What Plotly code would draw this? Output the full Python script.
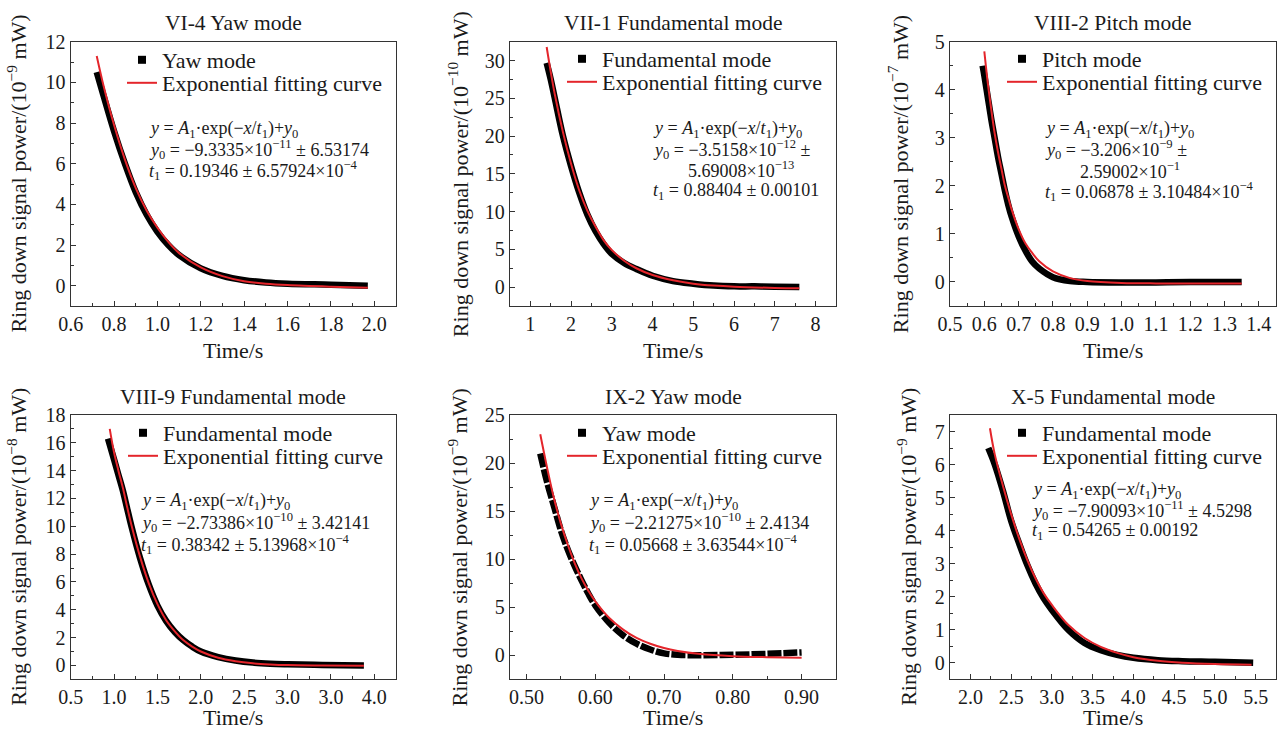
import plotly.graph_objects as go

# ---------------- data ----------------
panel_titles = ["VI-4 Yaw mode", "VII-1 Fundamental mode", "VIII-2 Pitch mode",
                "VIII-9 Fundamental mode", "IX-2 Yaw mode", "X-5 Fundamental mode"]
data_names = ["Yaw mode", "Fundamental mode", "Pitch mode",
              "Fundamental mode", "Yaw mode", "Fundamental mode"]
fit_name = "Exponential fitting curve"
y_exponents = ["−9", "−10", "−7", "−8", "−9", "−9"]
x_title = "Time/s"

# VI-4 Yaw mode (10^-9 mW)
vi4_time = [0.72, 0.75, 0.80, 0.85, 0.90, 0.95, 1.00, 1.05, 1.10, 1.20, 1.30, 1.40, 1.50, 1.60, 1.80, 1.97]
vi4_power = [10.5, 9.4, 7.6, 6.0, 4.6, 3.5, 2.65, 2.0, 1.5, 0.85, 0.48, 0.27, 0.16, 0.1, 0.05, 0.0]
vi4_fit_time = [0.72, 0.75, 0.80, 0.85, 0.90, 0.95, 1.00, 1.05, 1.10, 1.20, 1.30, 1.40, 1.50, 1.60, 1.80, 1.97]
vi4_fit_power = [11.3, 9.9, 7.9, 6.2, 4.8, 3.7, 2.85, 2.15, 1.6, 0.9, 0.47, 0.22, 0.1, 0.03, -0.05, -0.1]

# VII-1 Fundamental mode (10^-10 mW)
vii1_time = [1.4, 1.5, 1.6, 1.8, 2.0, 2.2, 2.4, 2.6, 2.8, 3.0, 3.3, 3.6, 4.0, 4.5, 5.0, 5.5, 6.0, 6.5, 7.0, 7.6]
vii1_power = [29.7, 27.5, 25.0, 20.0, 16.0, 12.5, 9.6, 7.4, 5.7, 4.4, 3.2, 2.4, 1.5, 0.8, 0.45, 0.2, 0.1, 0.1, 0.05, 0.0]
vii1_fit_time = [1.4, 1.5, 1.6, 1.8, 2.0, 2.2, 2.4, 2.6, 2.8, 3.0, 3.3, 3.6, 4.0, 4.5, 5.0, 5.5, 6.0, 7.0, 7.6]
vii1_fit_power = [31.8, 28.5, 25.5, 20.5, 16.3, 12.8, 10.1, 8.0, 6.2, 4.9, 3.5, 2.5, 1.6, 0.9, 0.45, 0.2, 0.05, -0.1, -0.15]

# VIII-2 Pitch mode (10^-7 mW)
viii2_time = [0.595, 0.60, 0.61, 0.62, 0.63, 0.64, 0.65, 0.66, 0.67, 0.68, 0.70, 0.72, 0.74, 0.76, 0.80, 0.85, 0.90, 1.00, 1.10, 1.20, 1.35]
viii2_power = [4.5, 4.3, 3.85, 3.4, 3.0, 2.6, 2.25, 1.9, 1.6, 1.35, 0.95, 0.65, 0.42, 0.28, 0.1, 0.02, 0.0, -0.01, -0.01, 0.0, 0.0]
viii2_fit_time = [0.60, 0.61, 0.62, 0.63, 0.64, 0.65, 0.66, 0.67, 0.68, 0.70, 0.72, 0.74, 0.76, 0.80, 0.85, 0.90, 1.00, 1.10, 1.20, 1.35]
viii2_fit_power = [4.8, 4.15, 3.6, 3.1, 2.7, 2.35, 2.0, 1.75, 1.5, 1.1, 0.8, 0.6, 0.43, 0.22, 0.08, 0.02, -0.02, -0.03, -0.03, -0.03]

# VIII-9 Fundamental mode (10^-8 mW)
viii9_time = [0.93, 1.0, 1.05, 1.1, 1.15, 1.2, 1.3, 1.4, 1.5, 1.6, 1.7, 1.8, 1.9, 2.0, 2.2, 2.4, 2.6, 2.8, 3.0, 3.4, 3.88]
viii9_power = [16.3, 14.8, 13.7, 12.6, 11.3, 10.0, 7.7, 5.8, 4.3, 3.2, 2.4, 1.8, 1.35, 1.0, 0.6, 0.35, 0.2, 0.12, 0.08, 0.03, 0.0]
viii9_fit_time = [0.95, 1.0, 1.05, 1.1, 1.15, 1.2, 1.3, 1.4, 1.5, 1.6, 1.7, 1.8, 1.9, 2.0, 2.2, 2.4, 2.6, 2.8, 3.0, 3.4, 3.88]
viii9_fit_power = [17.0, 15.3, 14.0, 12.8, 11.4, 10.1, 7.8, 5.9, 4.4, 3.25, 2.45, 1.8, 1.35, 1.0, 0.55, 0.3, 0.15, 0.07, 0.02, -0.01, -0.03]

# IX-2 Yaw mode (10^-9 mW)
ix2_time = [0.52, 0.53, 0.54, 0.55, 0.56, 0.57, 0.58, 0.59, 0.60, 0.62, 0.64, 0.66, 0.68, 0.70, 0.72, 0.75, 0.80, 0.85, 0.90]
ix2_power = [21.0, 18.0, 15.5, 13.0, 11.0, 9.3, 7.8, 6.4, 5.2, 3.4, 2.1, 1.2, 0.6, 0.2, 0.05, 0.0, 0.05, 0.15, 0.3]
ix2_fit_time = [0.52, 0.53, 0.54, 0.55, 0.56, 0.57, 0.58, 0.59, 0.60, 0.62, 0.64, 0.66, 0.68, 0.70, 0.72, 0.75, 0.80, 0.85, 0.90]
ix2_fit_power = [23.0, 19.5, 16.3, 13.7, 11.5, 9.6, 8.0, 6.7, 5.6, 3.9, 2.7, 1.8, 1.2, 0.75, 0.45, 0.15, -0.1, -0.2, -0.25]

# X-5 Fundamental mode (10^-9 mW)
x5_time = [2.22, 2.3, 2.4, 2.5, 2.6, 2.7, 2.8, 2.9, 3.0, 3.2, 3.4, 3.6, 3.8, 4.0, 4.3, 4.6, 5.0, 5.47]
x5_power = [6.5, 6.0, 5.2, 4.3, 3.6, 2.95, 2.4, 1.95, 1.6, 1.0, 0.6, 0.38, 0.24, 0.15, 0.08, 0.05, 0.03, 0.0]
x5_fit_time = [2.24, 2.3, 2.4, 2.5, 2.6, 2.7, 2.8, 2.9, 3.0, 3.2, 3.4, 3.6, 3.8, 4.0, 4.3, 4.6, 5.0, 5.45]
x5_fit_power = [7.1, 6.3, 5.35, 4.5, 3.75, 3.1, 2.55, 2.1, 1.75, 1.15, 0.75, 0.48, 0.3, 0.17, 0.06, 0.0, -0.04, -0.06]

# fit result text lines
equation = "<i>y</i> = <i>A</i><sub>1</sub>·exp(−<i>x</i>/<i>t</i><sub>1</sub>)+<i>y</i><sub>0</sub>"
fit_lines = [
    [equation,
     "<i>y</i><sub>0</sub> = −9.3335×10<sup>−11</sup> ± 6.53174",
     "<i>t</i><sub>1</sub> = 0.19346 ± 6.57924×10<sup>−4</sup>"],
    [equation,
     "<i>y</i><sub>0</sub> = −3.5158×10<sup>−12</sup> ±",
     "5.69008×10<sup>−13</sup>",
     "<i>t</i><sub>1</sub> = 0.88404 ± 0.00101"],
    [equation,
     "<i>y</i><sub>0</sub> = −3.206×10<sup>−9</sup> ±",
     "2.59002×10<sup>−1</sup>",
     "<i>t</i><sub>1</sub> = 0.06878 ± 3.10484×10<sup>−4</sup>"],
    [equation,
     "<i>y</i><sub>0</sub> = −2.73386×10<sup>−10</sup> ± 3.42141",
     "<i>t</i><sub>1</sub> = 0.38342 ± 5.13968×10<sup>−4</sup>"],
    [equation,
     "<i>y</i><sub>0</sub> = −2.21275×10<sup>−10</sup> ± 2.4134",
     "<i>t</i><sub>1</sub> = 0.05668 ± 3.63544×10<sup>−4</sup>"],
    [equation,
     "<i>y</i><sub>0</sub> = −7.90093×10<sup>−11</sup> ± 4.5298",
     "<i>t</i><sub>1</sub> = 0.54265 ± 0.00192"],
]

viii9_tickvals = [0.5, 1.0, 1.5, 2.0, 2.5, 3.0, 3.5, 4.0]
viii9_ticktext = ["0.5", "1.0", "1.5", "2.0", "2.5", "3.0", "3.0", "4.0"]

series = [
    (vi4_time, vi4_power, vi4_fit_time, vi4_fit_power),
    (vii1_time, vii1_power, vii1_fit_time, vii1_fit_power),
    (viii2_time, viii2_power, viii2_fit_time, viii2_fit_power),
    (viii9_time, viii9_power, viii9_fit_time, viii9_fit_power),
    (ix2_time, ix2_power, ix2_fit_time, ix2_fit_power),
    (x5_time, x5_power, x5_fit_time, x5_fit_power),
]

# ---------------- layout / styling ----------------
W, H = 1280, 731
FONT = "Liberation Serif"
TXT = "#1a1a1a"
RED = "#e4252b"
TICK_SIZE = 20
LEG_SIZE = 22
TITLE_SIZE = 21.5
AXT_SIZE = 22
EQ_SIZE = 18

cols_px = [(70.7, 396.0), (510.0, 836.0), (950.0, 1276.0)]
rows_px = [(41.7, 306.0), (415.0, 679.3)]

x_axes = [
    dict(range=[0.6, 2.1], dtick=0.2, tick0=0, tickformat=".1f", minor_dtick=0.1),
    dict(range=[0.5, 8.5], dtick=1, tick0=0, tickformat="d", minor_dtick=0.5),
    dict(range=[0.5, 1.45], dtick=0.1, tick0=0, tickformat=".1f", minor_dtick=0.05),
    dict(range=[0.5, 4.25], tickvals=viii9_tickvals, ticktext=viii9_ticktext, minor_dtick=0.25),
    dict(range=[0.476, 0.95], dtick=0.1, tick0=0, tickformat=".2f", minor_dtick=0.05),
    dict(range=[1.75, 5.75], dtick=0.5, tick0=0, tickformat=".1f", minor_dtick=0.25),
]
y_axes = [
    dict(range=[-1, 12], dtick=2, minor_dtick=1),
    dict(range=[-2.5, 32.5], dtick=5, minor_dtick=2.5),
    dict(range=[-0.5, 5], dtick=1, minor_dtick=0.5),
    dict(range=[-1, 18], dtick=2, minor_dtick=1),
    dict(range=[-2.5, 25], dtick=5, minor_dtick=2.5),
    dict(range=[-0.5, 7.5], dtick=1, minor_dtick=0.5),
]

# legend text start x and row-centre y (pixels)
legend_pos = [(162, 60, 83), (602, 59, 82), (1042, 59, 82), (163, 433, 456), (602, 433, 456), (1042, 433, 456)]
eq_pos = [
    (146.7, [129.3, 149.8, 170.7]),
    (650.7, [129.3, 149.8, 169.8, 191.7]),
    (1042.7, [129.3, 149.8, 170.7, 191.7]),
    (139.3, [501.7, 522.3, 544.0]),
    (586.7, [501.7, 522.3, 544.0]),
    (1030.0, [490.7, 510.7, 531.7]),
]
eq_indent = 35
ytitle_x = [16.7, 458.3, 898.3, 16.7, 458.3, 906.7]


def fx(p):
    return p / W


def fy(p):
    return 1 - p / H


fig = go.Figure()
layout = dict(width=W, height=H, margin=dict(l=0, r=0, t=0, b=0, autoexpand=False),
              paper_bgcolor="white", plot_bgcolor="white",
              font=dict(family=FONT, color=TXT, size=TICK_SIZE), showlegend=True)
annotations = []

for i in range(6):
    r, c = divmod(i, 3)
    n = "" if i == 0 else str(i + 1)
    xa, ya = "x" + n, "y" + n
    lg_a = "legend" if i == 0 else "legend" + str(2 * i + 1)
    lg_b = "legend" + str(2 * i + 2)
    t, p, ft, fp = series[i]
    dash = "14px,2px" if i == 4 else "solid"
    fig.add_trace(go.Scatter(x=t, y=p, mode="lines",
                             line=dict(color="black", width=6.5, shape="spline", dash=dash),
                             showlegend=False, xaxis=xa, yaxis=ya, hoverinfo="skip"))
    fig.add_trace(go.Scatter(x=[None], y=[None], mode="markers", name=data_names[i],
                             marker=dict(symbol="square", size=8, color="black"),
                             xaxis=xa, yaxis=ya, legend=lg_a))
    fig.add_trace(go.Scatter(x=ft, y=fp, mode="lines", name=fit_name,
                             line=dict(color=RED, width=2, shape="spline"),
                             xaxis=xa, yaxis=ya, legend=lg_b))

    x0, x1 = cols_px[c]
    y0, y1 = rows_px[r]
    xd = x_axes[i]
    yd = y_axes[i]
    common = dict(showline=True, linecolor="#333", linewidth=1.3, mirror=True,
                  ticks="inside", ticklen=5, tickwidth=1.2, tickcolor="#333",
                  showgrid=False, zeroline=False, automargin=False,
                  tickfont=dict(family=FONT, size=TICK_SIZE, color=TXT))
    xaxis = dict(domain=[fx(x0), fx(x1)], anchor=ya, range=xd["range"],
                 minor=dict(dtick=xd["minor_dtick"], ticks="inside", ticklen=3, tickwidth=1.1,
                            tickcolor="#333", showgrid=False), **common)
    if "tickvals" in xd:
        xaxis.update(tickmode="array", tickvals=xd["tickvals"], ticktext=xd["ticktext"])
        xaxis["minor"]["tick0"] = 0.5
    else:
        xaxis.update(dtick=xd["dtick"], tick0=xd["tick0"], tickformat=xd["tickformat"])
    yaxis = dict(domain=[fy(y1), fy(y0)], anchor=xa, range=yd["range"], dtick=yd["dtick"], tick0=0,
                 minor=dict(dtick=yd["minor_dtick"], ticks="inside", ticklen=3, tickwidth=1.1,
                            tickcolor="#333", showgrid=False), **common)
    layout["xaxis" + n] = xaxis
    layout["yaxis" + n] = yaxis

    lx, ly1, ly2 = legend_pos[i]
    for lg, ly in ((lg_a, ly1), (lg_b, ly2)):
        layout[lg] = dict(x=fx(lx - 40), y=fy(ly), xanchor="left", yanchor="middle",
                          bgcolor="rgba(0,0,0,0)", borderwidth=0,
                          font=dict(family=FONT, size=LEG_SIZE, color=TXT),
                          tracegroupgap=0, itemwidth=30)

    cx = (x0 + x1) / 2
    title_y = 23.3 if r == 0 else 396.7
    annotations.append(dict(text=panel_titles[i], x=fx(cx), y=fy(title_y), xref="paper", yref="paper",
                            xanchor="center", yanchor="middle", showarrow=False,
                            font=dict(family=FONT, size=TITLE_SIZE, color=TXT)))
    xt_y = 350 if r == 0 else 717
    annotations.append(dict(text=x_title, x=fx(cx), y=fy(xt_y), xref="paper", yref="paper",
                            xanchor="center", yanchor="middle", showarrow=False,
                            font=dict(family=FONT, size=AXT_SIZE, color=TXT)))
    cy = (y0 + y1) / 2
    annotations.append(dict(text="Ring down signal power/(10<sup>" + y_exponents[i] + "</sup> mW)",
                            x=fx(ytitle_x[i]), y=fy(cy), xref="paper", yref="paper",
                            xanchor="center", yanchor="middle", textangle=-90, showarrow=False,
                            font=dict(family=FONT, size=AXT_SIZE, color=TXT)))
    ex, eys = eq_pos[i]
    for k, (line, ey) in enumerate(zip(fit_lines[i], eys)):
        indent = eq_indent if (len(fit_lines[i]) == 4 and k == 2) else 0
        annotations.append(dict(text=line, x=fx(ex + indent), y=fy(ey), xref="paper", yref="paper",
                                xanchor="left", yanchor="middle", showarrow=False,
                                font=dict(family=FONT, size=EQ_SIZE, color=TXT)))

layout["annotations"] = annotations
fig.update_layout(**layout)
fig.write_html("out.html", config={"displayModeBar": False},
               post_script="document.body.style.margin='0';")
